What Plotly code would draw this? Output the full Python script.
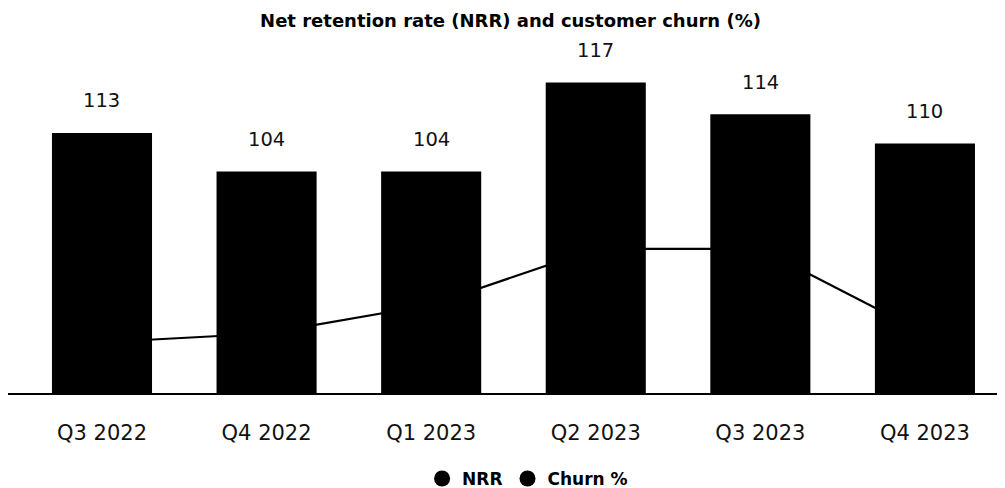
import plotly.graph_objects as go

# ---- data ----
quarters = ["Q3 2022", "Q4 2022", "Q1 2023", "Q2 2023", "Q3 2023", "Q4 2023"]
nrr_labels = [113, 104, 104, 117, 114, 110]          # value labels printed above bars
nrr_bar_height = [98, 83.5, 83.5, 117, 105, 94]        # bar heights as drawn in the picture
churn_pct = [3.45, 4.05, 6.0, 9.8, 9.8, 4.05]          # churn line (secondary scale)

FONT = "DejaVu Sans"
BLACK = "#000000"

fig = go.Figure()

# churn line (drawn underneath the bars)
fig.add_trace(go.Scatter(
    x=quarters, y=churn_pct, mode="lines", yaxis="y",
    line=dict(color=BLACK, width=2.2), showlegend=False, hoverinfo="skip"))

# NRR bars (on overlaying axis so they sit above the line)
fig.add_trace(go.Bar(
    x=quarters, y=nrr_bar_height, yaxis="y2",
    marker=dict(color=BLACK, line=dict(width=0)), showlegend=False))

# legend entries with circular markers
fig.add_trace(go.Scatter(x=[None], y=[None], mode="markers", name="NRR",
                         marker=dict(color=BLACK, size=16, symbol="circle")))
fig.add_trace(go.Scatter(x=[None], y=[None], mode="markers", name="Churn %",
                         marker=dict(color=BLACK, size=16, symbol="circle")))

for q, h, lab in zip(quarters, nrr_bar_height, nrr_labels):
    fig.add_annotation(x=q, y=h, yref="y2", text=str(lab), showarrow=False,
                       yanchor="middle", yshift=32,
                       font=dict(family=FONT, size=19.5, color="#111111"))

fig.update_layout(
    width=1005, height=488,
    margin=dict(l=0, r=0, t=32, b=103),
    paper_bgcolor="white", plot_bgcolor="white",
    font=dict(family=FONT, color=BLACK),
    title=dict(text="<b>Net retention rate (NRR) and customer churn (%)</b>",
               x=0.5, xanchor="center", y=0.975, yanchor="middle",
               font=dict(family=FONT, size=18, color=BLACK)),
    bargap=0.392,
    xaxis=dict(range=[-0.571, 5.535], showgrid=False, showline=True,
               linecolor=BLACK, linewidth=2, ticks="",
               tickfont=dict(family=FONT, size=21, color="#111111"),
               ticklabelstandoff=20),
    yaxis=dict(range=[0, 24], visible=False, showgrid=False),
    yaxis2=dict(range=[0, 133], overlaying="y", visible=False, showgrid=False),
    legend=dict(orientation="h", x=0.517, xanchor="center", y=0.035, yanchor="middle",
                yref="container", font=dict(family=FONT, size=17, color=BLACK,
                                            weight="bold"),
                itemsizing="trace", traceorder="normal"),
    showlegend=True,
)

fig.write_html("out.html")
